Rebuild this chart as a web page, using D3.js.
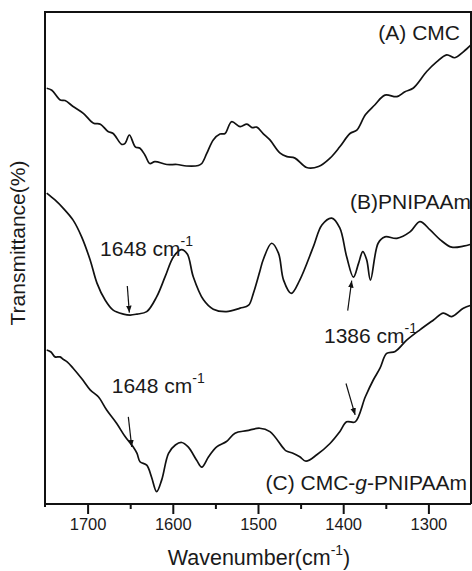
<!DOCTYPE html>
<html><head><meta charset="utf-8">
<script src="https://cdn.jsdelivr.net/npm/d3@7"></script>
<style>
body{margin:0;background:#fff}
svg{display:block}
text{font-family:"Liberation Sans",Arial,sans-serif;fill:#1a1a1a}
</style>
</head><body>
<svg id="c" width="472" height="571"></svg>
<script>
// ---- data (wavenumber in cm^-1, transmittance in arbitrary offset units) ----
const wnA = [1748,1742,1732,1726.5,1717,1705,1693,1685,1676,1670,1660,1656,1651,1644,1638.5,1632.6,1627,1621,1607,1595,1584,1570,1566,1560,1552.5,1544.6,1538.7,1531,1521,1513,1507,1501.5,1494,1486,1474,1466,1456.6,1443,1429,1415.5,1404,1392,1384,1374,1363,1351,1337,1327.5,1318,1302,1290,1278.5,1269,1259,1250];
const tA  = [84.5,84.1,82.1,82.0,80.8,79.4,77.4,77.2,75.7,75.3,73.1,73.3,75.0,72.6,72.3,70.9,69.2,69.6,69.0,69.0,68.7,68.8,69.2,71.3,74.0,75.2,75.3,77.7,76.7,77.2,76.5,76.6,75.3,74.0,71.3,70.6,70.3,68.4,68.6,70.3,72.6,75.3,76.0,79.1,81.1,83.1,82.8,83.8,84.5,87.9,89.9,91.3,90.7,91.9,93.3];

const wnB = [1748,1738.3,1728.5,1717,1707,1697,1689,1679.6,1670,1658,1650,1642,1630.6,1619,1609,1599,1590,1583,1576,1564,1552.5,1537,1521,1511,1505.5,1498,1494,1484,1476,1470,1461,1451,1435,1425,1413.5,1404,1396,1388,1382,1377,1372.4,1368,1359,1351,1337,1321.6,1310,1298,1286,1272.7,1259,1250];
const tB  = [63.2,61.8,60.1,57.7,54.3,49.6,44.9,41.5,39.4,38.6,38.4,38.6,39.1,42.1,46.2,50.3,51.7,50.8,46.2,41.5,39.6,39.1,39.8,40.4,42.8,47.2,49.6,53.0,51.0,45.5,42.8,45.5,52.3,56.7,58.1,56.1,50.3,46.1,48.9,51.3,49.6,45.5,53.0,54.3,54.0,55.3,57.4,55.7,53.7,52.2,52.4,52.8];

const wnC = [1748,1743,1738.3,1732.4,1728.5,1724,1717,1707,1697,1687.4,1677.6,1666,1656,1650,1646.4,1642,1638.5,1630.6,1625,1619,1613,1605,1597,1589.6,1582,1572,1566,1558,1548.5,1537,1527,1513,1498,1486,1470,1467,1459,1451,1443.7,1431,1415.5,1404,1396,1386,1374,1364.7,1356.8,1349,1339,1325.5,1310,1294,1282.5,1272.7,1259,1250];
const tC  = [31.3,30.9,29.9,29.9,29.4,28.9,27.6,25.5,23.2,21.8,19.1,16.4,13.7,12.4,11.6,10.3,8.6,7.9,5.5,2.5,4.9,10.3,12.0,12.5,11.6,8.9,7.5,9.6,11.6,12.7,14.4,14.9,15.4,14.7,11.3,10.8,10.3,9.6,8.7,10.0,12.3,14.7,16.7,16.7,21.8,25.2,27.6,30.6,31.0,33.3,35.4,37.4,38.8,38.1,39.8,40.4];

const majorTicks = [1700,1600,1500,1400,1300];
const minorTicks = [1650,1550,1450,1350];
const seriesLabels = ["(A) CMC","(B)PNIPAAm","(C) CMC-"];

// ---- layout ----
const svg = d3.select("#c");
const L=45, R=471, T=12, B=504;
const x = d3.scaleLinear().domain([1750,1250]).range([L,R]);
const y = d3.scaleLinear().domain([0,100]).range([B,T]);

const line = d3.line().x(d=>x(d[0])).y(d=>y(d[1])).curve(d3.curveCatmullRom.alpha(0.5));
[[wnA,tA],[wnB,tB],[wnC,tC]].forEach(([w,t])=>{
  svg.append("path").datum(w.map((v,i)=>[v,t[i]]))
    .attr("d",line).attr("fill","none").attr("stroke","#111").attr("stroke-width",1.7)
    .attr("stroke-linejoin","round");
});

// frame
svg.append("path")
  .attr("d",`M${L},${B+3}V${T}H${R}V${B}`)
  .attr("fill","none").attr("stroke","#111").attr("stroke-width",2);

// axes
const ax = svg.append("g").attr("transform",`translate(0,${B})`)
  .call(d3.axisBottom(x).tickValues(majorTicks).tickSize(10).tickPadding(4).tickFormat(d3.format("d")));
ax.select(".domain").attr("d",`M${L},0H${R}`).attr("stroke","#111").attr("stroke-width",2);
ax.selectAll(".tick line").attr("stroke","#111").attr("stroke-width",2);
ax.selectAll(".tick text").attr("font-size",16.5).attr("font-family","Liberation Sans, Arial, sans-serif").attr("fill","#1a1a1a");
const axm = svg.append("g").attr("transform",`translate(0,${B})`)
  .call(d3.axisBottom(x).tickValues(minorTicks).tickSize(5).tickFormat(""));
axm.select(".domain").remove();
axm.selectAll(".tick line").attr("stroke","#111").attr("stroke-width",2);

// axis titles
const xt = svg.append("text").attr("x",(L+R)/2+1).attr("y",565).attr("text-anchor","middle").attr("font-size",21.5);
xt.append("tspan").text("Wavenumber(cm");
xt.append("tspan").text("-1").attr("font-size",14).attr("dy",-10);
xt.append("tspan").text(")").attr("dy",10);

svg.append("text").attr("transform",`translate(25,${243}) rotate(-90)`)
  .attr("text-anchor","middle").attr("font-size",21).text("Transmittance(%)");

// series labels
const fs = 21;
svg.append("text").attr("x",460).attr("y",40).attr("text-anchor","end").attr("font-size",fs).text(seriesLabels[0]);
svg.append("text").attr("x",471).attr("y",209).attr("text-anchor","end").attr("font-size",fs).text(seriesLabels[1]);
const lc = svg.append("text").attr("x",467).attr("y",490).attr("text-anchor","end").attr("font-size",fs);
lc.append("tspan").text(seriesLabels[2]);
lc.append("tspan").text("g").attr("font-style","italic");
lc.append("tspan").text("-PNIPAAm");

// annotations
function cmLabel(w,t,label){
  const tx = svg.append("text").attr("x",x(w)).attr("y",y(t)).attr("font-size",fs);
  tx.append("tspan").text(label+" cm");
  tx.append("tspan").text("-1").attr("font-size",14).attr("dy",-10);
}
cmLabel(1685.4,50.4,"1648");
cmLabel(1422.5,32.7,"1386");
cmLabel(1671.7,22.6,"1648");

const defs = svg.append("defs");
defs.append("marker").attr("id","ah").attr("viewBox","0 0 10 10").attr("refX",10).attr("refY",5)
  .attr("markerWidth",7).attr("markerHeight",7).attr("markerUnits","userSpaceOnUse").attr("orient","auto")
  .append("path").attr("d","M0,1L10,5L0,9Z").attr("fill","#111");
function arrow(w1,t1,w2,t2){
  svg.append("line").attr("x1",x(w1)).attr("y1",y(t1)).attr("x2",x(w2)).attr("y2",y(t2))
    .attr("stroke","#111").attr("stroke-width",1.2).attr("marker-end","url(#ah)");
}
arrow(1653.4,44.3,1651,38.9);
arrow(1394.7,39.3,1390,45.4);
arrow(1652.2,17.7,1648.2,11.6);
arrow(1396.7,24.5,1386,18.1);
</script>
</body></html>
